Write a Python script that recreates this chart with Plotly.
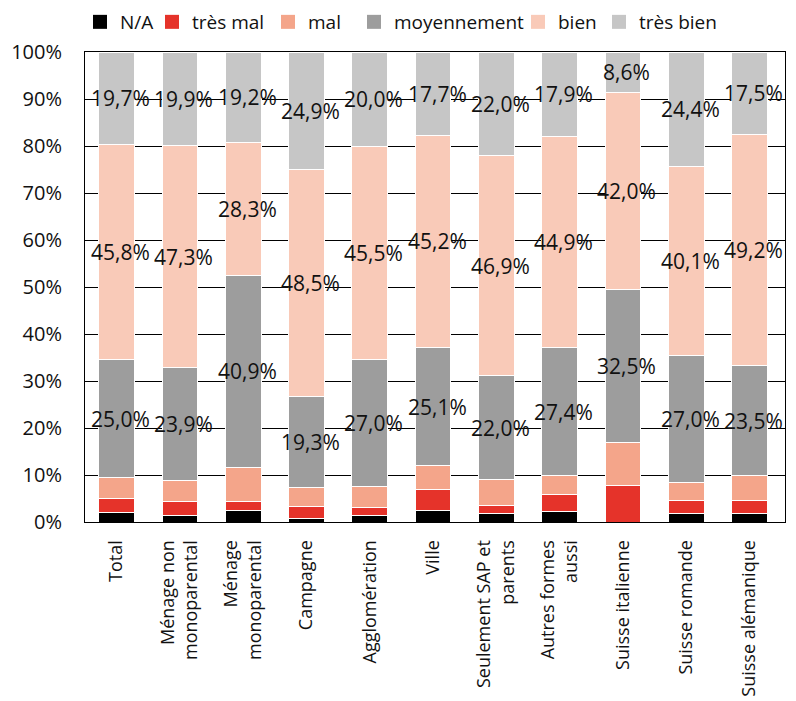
import plotly.graph_objects as go

# Survey results by household / region (shares in %)
categories = [
    "Total",
    "Ménage non<br>monoparental",
    "Ménage<br>monoparental",
    "Campagne",
    "Agglomération",
    "Ville",
    "Seulement SAP et<br>parents",
    "Autres formes<br>aussi",
    "Suisse italienne",
    "Suisse romande",
    "Suisse alémanique",
]

na = [2.0, 1.4, 2.5, 0.8, 1.3, 2.4, 1.9, 2.3, 0.0, 1.8, 1.9]
tres_mal = [2.9, 3.0, 1.9, 2.4, 1.7, 4.6, 1.7, 3.6, 7.8, 2.8, 2.7]
mal = [4.6, 4.5, 7.2, 4.1, 4.5, 5.0, 5.5, 3.9, 9.1, 3.9, 5.2]
moyennement = [25.0, 23.9, 40.9, 19.3, 27.0, 25.1, 22.0, 27.4, 32.5, 27.0, 23.5]
bien = [45.8, 47.3, 28.3, 48.5, 45.5, 45.2, 46.9, 44.9, 42.0, 40.1, 49.2]
tres_bien = [19.7, 19.9, 19.2, 24.9, 20.0, 17.7, 22.0, 17.9, 8.6, 24.4, 17.5]

y_ticks = [0, 10, 20, 30, 40, 50, 60, 70, 80, 90, 100]

series = [
    ("N/A", na, "#000000", False, 27),
    ("très mal", tres_mal, "#e5332a", False, 71),
    ("mal", mal, "#f4a58a", False, 41),
    ("moyennement", moyennement, "#9d9d9d", True, 119),
    ("bien", bien, "#f9cab8", True, 36),
    ("très bien", tres_bien, "#c6c6c6", True, 90),
]

FONT = "Open Sans"
fig = go.Figure()

base = [0.0] * len(categories)
annotations = []
for name, vals, color, labelled, lw in series:
    fig.add_trace(go.Bar(
        x=categories, y=vals, name=name, showlegend=False,
        marker=dict(color=color, line=dict(color="white", width=1)),
        hoverinfo="skip",
    ))
    if labelled:
        for cat, b, v in zip(categories, base, vals):
            annotations.append(dict(
                x=cat, y=b + v / 2, xref="x", yref="y",
                text=f"{v:.1f}".replace(".", ",") + "%",
                showarrow=False, xshift=4,
                font=dict(family=FONT, size=21, color="#111111"),
            ))
    base = [b + v for b, v in zip(base, vals)]
    # legend entry with a square swatch
    fig.add_trace(go.Scatter(
        x=[None], y=[None], mode="markers", name=name,
        marker=dict(symbol="square", size=14, color=color),
        legendwidth=lw, hoverinfo="skip",
    ))

fig.update_layout(
    barmode="stack",
    bargap=0.434,
    width=796, height=701,
    margin=dict(l=85, r=11, t=52, b=179),
    paper_bgcolor="white",
    plot_bgcolor="white",
    font=dict(family=FONT, size=20, color="#111111"),
    annotations=annotations,
    legend=dict(
        orientation="h",
        traceorder="normal",
        xref="container", yref="container",
        x=80 / 796, xanchor="left",
        y=1 - 22 / 701, yanchor="middle",
        font=dict(family=FONT, size=19, color="#111111"),
        itemwidth=30,
        bgcolor="rgba(0,0,0,0)",
    ),
    xaxis=dict(
        tickangle=-90,
        showline=True, linecolor="black", linewidth=1, mirror=True,
        showgrid=False, ticks="",
        ticklabelstandoff=10,
        tickfont=dict(family=FONT, size=18, color="#111111"),
        automargin=False,
    ),
    yaxis=dict(
        range=[0, 100],
        tickvals=y_ticks,
        ticktext=[f"{t}%" for t in y_ticks],
        showline=True, linecolor="black", linewidth=1, mirror=True,
        showgrid=True, gridcolor="black", gridwidth=1,
        zeroline=False, ticks="",
        ticklabelstandoff=18,
        tickfont=dict(family=FONT, size=20, color="#111111"),
        automargin=False,
    ),
)

fig.write_html("out.html")
